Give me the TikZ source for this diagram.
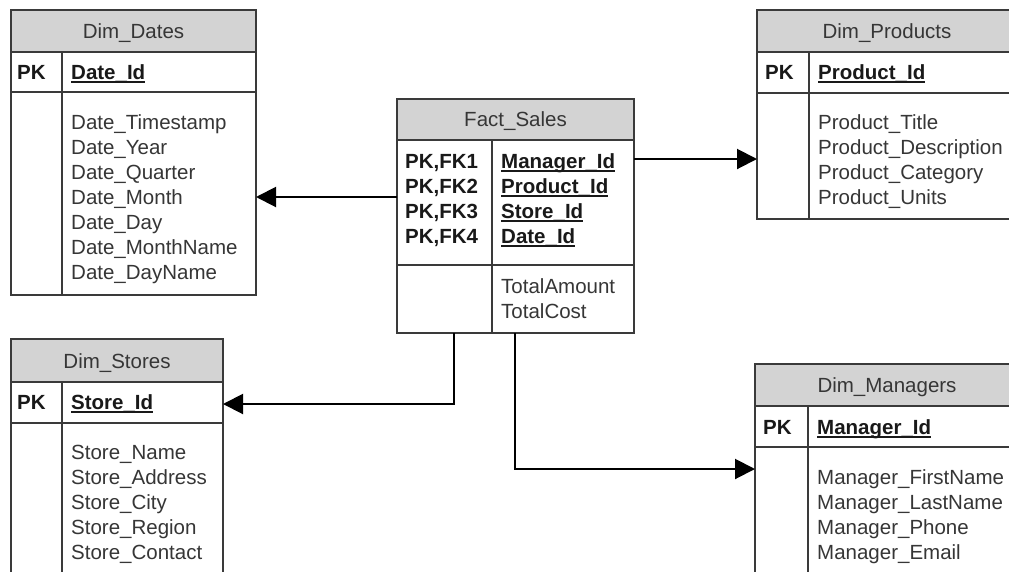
\documentclass[tikz,border=0pt]{standalone}
\usepackage{fontspec}
\setmainfont{Liberation Sans}
\usetikzlibrary{arrows.meta}

\definecolor{linegray}{HTML}{3A3A3A}
\definecolor{headfill}{HTML}{D3D3D3}
\definecolor{txtgray}{HTML}{363636}

% underlined key column name (rule sits where the underscore sits)
\newcommand\keyul[1]{\setbox0\hbox{#1}\rlap{\vrule height -2.4pt depth 4.4pt width \wd0}\box0}

\tikzset{
  tbl/.style={draw=linegray, line width=1.5pt, fill=white, rectangle,
    anchor=north west, inner sep=0pt, outer sep=0pt},
  hdr/.style={draw=linegray, line width=1.5pt, fill=headfill},
  rule/.style={draw=linegray, line width=1.5pt},
  title/.style={anchor=base, text=txtgray, font=\fontsize{20.5}{24}\selectfont, inner sep=0pt},
  key/.style={anchor=base west, text=black!90, font=\fontsize{20.5}{24}\selectfont\bfseries, inner sep=0pt},
  attr/.style={anchor=base west, text=txtgray, font=\fontsize{20.5}{24}\selectfont, inner sep=0pt},
  link/.style={draw=black, line width=2pt, -{Triangle[length=20pt,width=20pt]}},
}

\begin{document}
\begin{tikzpicture}[x=1pt, y=-1pt]
\clip (0,0) rectangle (1009,571);
\fill[white] (0,0) rectangle (1009,571);

% ---------- Dim_Dates ----------
\node[tbl, minimum width=245pt, minimum height=285pt] (dates) at (11,10) {};
\draw[hdr] (11,10) rectangle (256,52);
\draw[rule] (11,92) -- (256,92);
\draw[rule] (62,52) -- (62,295);
\node[title] (dates-t) at (133.5,38) {Dim\_Dates};
\node[key] (dates-pk) at (17,79) {PK};
\node[key] (dates-id) at (71,79) {\keyul{Date\_Id}};
\node[attr] (dates-a1) at (71,129) {Date\_Timestamp};
\node[attr] (dates-a2) at (71,154) {Date\_Year};
\node[attr] (dates-a3) at (71,179) {Date\_Quarter};
\node[attr] (dates-a4) at (71,204) {Date\_Month};
\node[attr] (dates-a5) at (71,229) {Date\_Day};
\node[attr] (dates-a6) at (71,254) {Date\_MonthName};
\node[attr] (dates-a7) at (71,279) {Date\_DayName};

% ---------- Fact_Sales ----------
\node[tbl, minimum width=237pt, minimum height=234pt] (fact) at (397,99) {};
\draw[hdr] (397,99) rectangle (634,140);
\draw[rule] (397,265) -- (634,265);
\draw[rule] (492,140) -- (492,333);
\node[title] (fact-t) at (515.5,126) {Fact\_Sales};
\node[key] (fact-k1) at (405,168) {PK,FK1};
\node[key] (fact-k2) at (405,193) {PK,FK2};
\node[key] (fact-k3) at (405,218) {PK,FK3};
\node[key] (fact-k4) at (405,243) {PK,FK4};
\node[key] (fact-n1) at (501,168) {\keyul{Manager\_Id}};
\node[key] (fact-n2) at (501,193) {\keyul{Product\_Id}};
\node[key] (fact-n3) at (501,218) {\keyul{Store\_Id}};
\node[key] (fact-n4) at (501,243) {\keyul{Date\_Id}};
\node[attr] (fact-a1) at (501,293) {TotalAmount};
\node[attr] (fact-a2) at (501,318) {TotalCost};

% ---------- Dim_Products ----------
\node[tbl, minimum width=260pt, minimum height=209pt] (prod) at (757,10) {};
\draw[hdr] (757,10) rectangle (1017,52);
\draw[rule] (757,93) -- (1017,93);
\draw[rule] (809,52) -- (809,219);
\node[title] (prod-t) at (887,38) {Dim\_Products};
\node[key] (prod-pk) at (765,79) {PK};
\node[key] (prod-id) at (818,79) {\keyul{Product\_Id}};
\node[attr] (prod-a1) at (818,129) {Product\_Title};
\node[attr] (prod-a2) at (818,154) {Product\_Description};
\node[attr] (prod-a3) at (818,179) {Product\_Category};
\node[attr] (prod-a4) at (818,204) {Product\_Units};

% ---------- Dim_Stores ----------
\node[tbl, minimum width=212pt, minimum height=261pt] (stores) at (11,339) {};
\draw[hdr] (11,339) rectangle (223,382);
\draw[rule] (11,423) -- (223,423);
\draw[rule] (62,382) -- (62,600);
\node[title] (stores-t) at (117,368) {Dim\_Stores};
\node[key] (stores-pk) at (17,409) {PK};
\node[key] (stores-id) at (71,409) {\keyul{Store\_Id}};
\node[attr] (stores-a1) at (71,459) {Store\_Name};
\node[attr] (stores-a2) at (71,484) {Store\_Address};
\node[attr] (stores-a3) at (71,509) {Store\_City};
\node[attr] (stores-a4) at (71,534) {Store\_Region};
\node[attr] (stores-a5) at (71,559) {Store\_Contact};

% ---------- Dim_Managers ----------
\node[tbl, minimum width=262pt, minimum height=236pt] (mgr) at (755,364) {};
\draw[hdr] (755,364) rectangle (1017,406);
\draw[rule] (755,447) -- (1017,447);
\draw[rule] (808,406) -- (808,600);
\node[title] (mgr-t) at (887,392) {Dim\_Managers};
\node[key] (mgr-pk) at (763,434) {PK};
\node[key] (mgr-id) at (817,434) {\keyul{Manager\_Id}};
\node[attr] (mgr-a1) at (817,484) {Manager\_FirstName};
\node[attr] (mgr-a2) at (817,509) {Manager\_LastName};
\node[attr] (mgr-a3) at (817,534) {Manager\_Phone};
\node[attr] (mgr-a4) at (817,559) {Manager\_Email};

% ---------- relationships ----------
\draw[link] (fact.east |- 0,159) -- (prod.west |- 0,159);
\draw[link] (fact.west |- 0,197) -- (dates.east |- 0,197);
\draw[link] (fact.south -| 454,0) -- (454,404) -- (stores.east |- 0,404);
\draw[link] (fact.south -| 515,0) -- (515,469) -- (mgr.west |- 0,469);
\end{tikzpicture}
\end{document}
